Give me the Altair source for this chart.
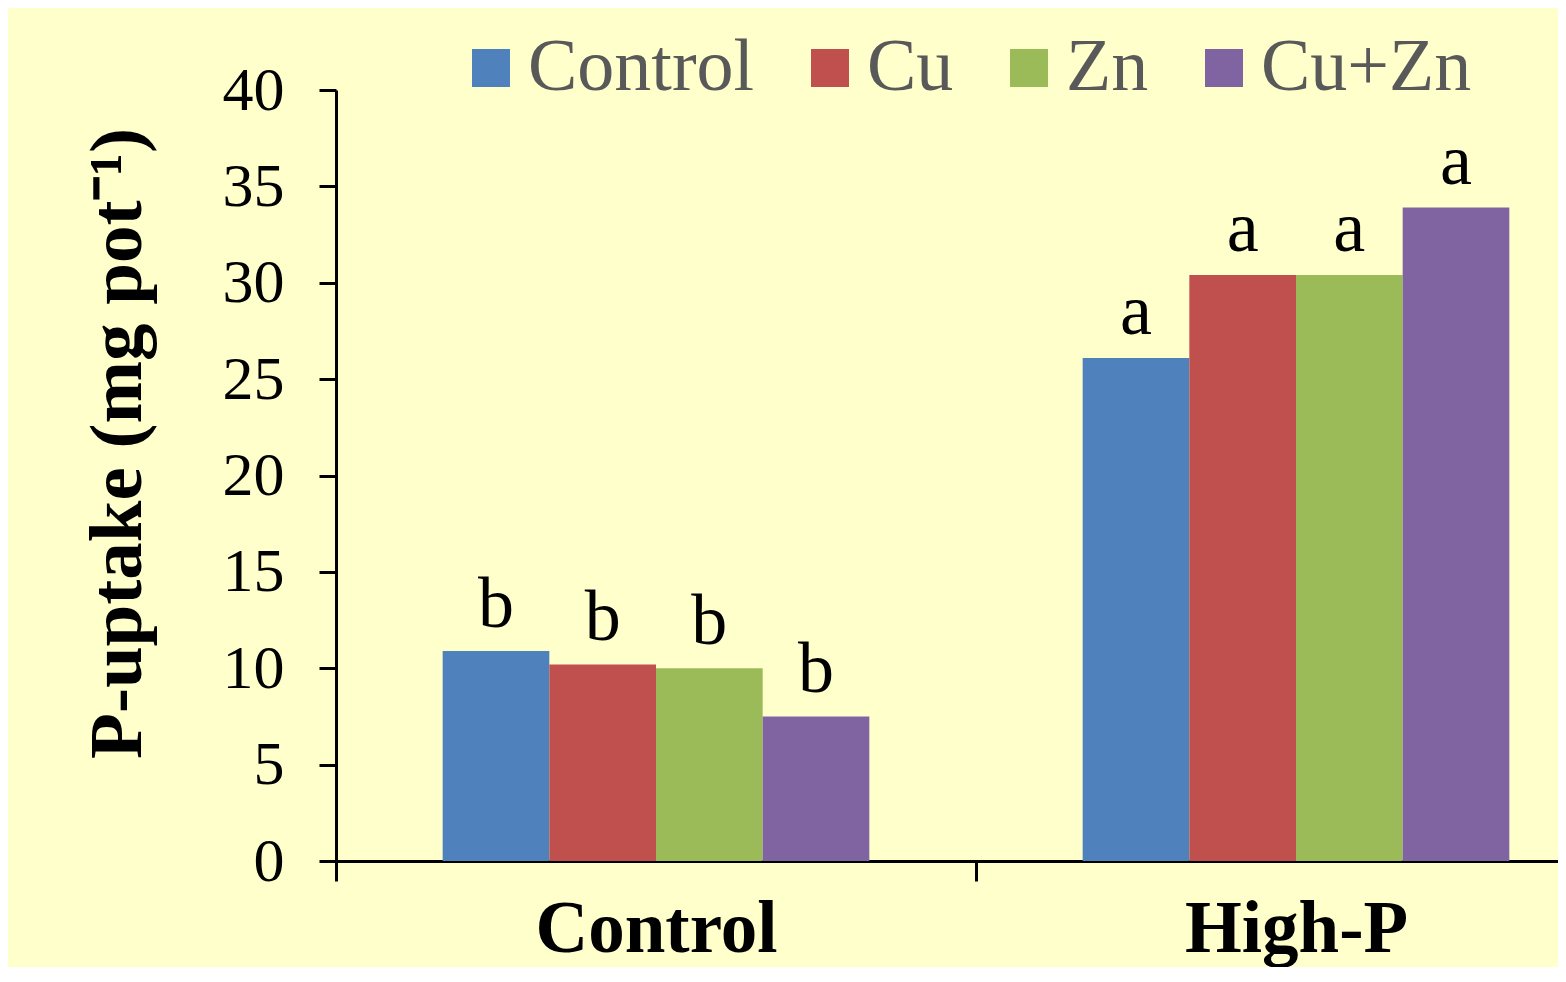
import altair as alt
import pandas as pd

groups = ["Control", "High-P"]
treatments = ["Control", "Cu", "Zn", "Cu+Zn"]
control_vals = [10.9, 10.2, 10.0, 7.5]
highp_vals = [26.1, 30.4, 30.4, 33.9]
control_letters = ["b", "b", "b", "b"]
highp_letters = ["a", "a", "a", "a"]
colors = ["#4F81BD", "#C0504D", "#9BBB59", "#8064A2"]

rows = []
for t, v, l in zip(treatments, control_vals, control_letters):
    rows.append({"group": "Control", "treatment": t, "value": v, "letter": l})
for t, v, l in zip(treatments, highp_vals, highp_letters):
    rows.append({"group": "High-P", "treatment": t, "value": v, "letter": l})
df = pd.DataFrame(rows)

FONT = "Liberation Serif"

x_enc = alt.X(
    "group:N",
    sort=groups,
    scale=alt.Scale(domain=groups, range=[0, 1280], paddingInner=0, paddingOuter=0),
    axis=alt.Axis(
        title=None,
        labelAngle=0,
        labelFont=FONT,
        labelFontSize=73,
        labelFontWeight="bold",
        labelColor="black",
        labelPadding=12,
        labelLimit=0,
        domainColor="black",
        domainWidth=3,
        tickColor="black",
        tickWidth=3,
        tickSize=20,
        tickBand="extent",
    ),
)
xoff = alt.XOffset("treatment:N", sort=treatments,
                   scale=alt.Scale(domain=treatments, paddingInner=0, paddingOuter=1.0))
y_enc = alt.Y(
    "value:Q",
    scale=alt.Scale(domain=[0, 40], nice=False),
    axis=alt.Axis(
        values=list(range(0, 41, 5)),
        title="P-uptake (mg pot⁻¹)",
        titleFont=FONT,
        titleFontSize=75,
        titleFontWeight="bold",
        titleColor="black",
        titlePadding=66,
        titleY=353,
        labelFont=FONT,
        labelFontSize=62,
        labelColor="black",
        labelPadding=35,
        tickSize=17,
        tickWidth=3,
        tickColor="black",
        domainColor="black",
        domainWidth=3,
        grid=False,
    ),
)

bars = alt.Chart(df).mark_bar().encode(
    x=x_enc,
    xOffset=xoff,
    y=y_enc,
    color=alt.Color(
        "treatment:N",
        sort=treatments,
        scale=alt.Scale(domain=treatments, range=colors),
        legend=alt.Legend(
            title=None,
            orient="none",
            direction="horizontal",
            legendX=118,
            legendY=-59,
            padding=0,
            symbolType="square",
            symbolSize=1444,
            symbolStrokeWidth=0,
            symbolOpacity=1,
            labelFont=FONT,
            labelFontSize=74,
            labelColor="#595959",
            labelOffset=0,
            labelLimit=0,
            columnPadding=38,
        ),
    ),
)

letters = alt.Chart(df).mark_text(
    font=FONT, fontSize=72, color="black", baseline="alphabetic", dy=-24
).encode(
    x=alt.X("group:N", sort=groups),
    xOffset=alt.XOffset("treatment:N", sort=treatments),
    y=alt.Y("value:Q"),
    text="letter:N",
)

chart = (
    alt.layer(bars, letters)
    .properties(
        width=1222,
        height=771,
        autosize=alt.AutoSizeParams(type="none"),
        padding={"left": 328, "top": 82, "right": 0, "bottom": 106},
        background="#FFFFCC",
    )
    .configure_view(stroke=None)
)

chart.save("out.html", embed_options={"renderer": "svg", "actions": False})
